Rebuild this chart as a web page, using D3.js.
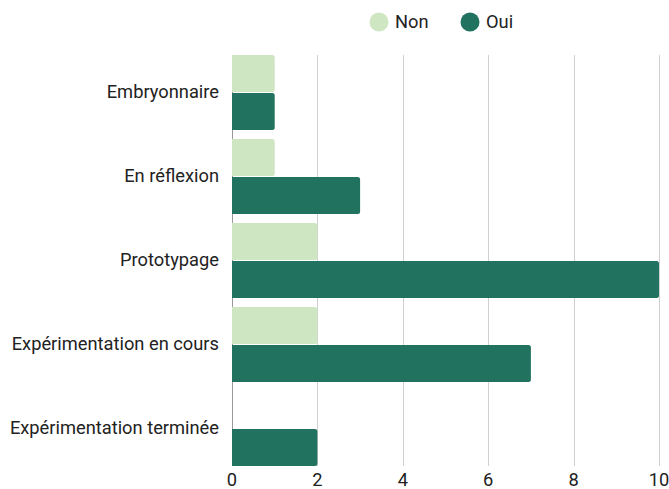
<!DOCTYPE html>
<html>
<head>
<meta charset="utf-8">
<script src="https://cdn.jsdelivr.net/npm/d3@7"></script>
<style>
  html, body { margin: 0; padding: 0; background: #fff; }
  svg { display: block; font-family: Roboto, "Noto Sans", sans-serif; }
</style>
</head>
<body>
<svg id="chart" width="669" height="489"></svg>
<script>
// Stages of the project and answer counts per series
const categories = ["Embryonnaire", "En réflexion", "Prototypage", "Expérimentation en cours", "Expérimentation terminée"];
const seriesNames = ["Non", "Oui"];
const nonValues = [1, 1, 2, 2, 0];
const ouiValues = [1, 3, 10, 7, 2];
const xTicks = [0, 2, 4, 6, 8, 10];
const seriesColors = ["#cfe6c2", "#21725e"];

const svg = d3.select("#chart");
const plot = { left: 232, right: 659, top: 55, bottom: 466 };
const fontSize = 18.3;

const x = d3.scaleLinear().domain([0, 10]).range([plot.left, plot.right]);
const y0 = d3.scaleBand().domain(categories).range([plot.top, plot.bottom]).paddingInner(0.107).paddingOuter(0);
const y1 = d3.scaleBand().domain(seriesNames).range([0, y0.bandwidth()]).paddingInner(0.027);
const color = d3.scaleOrdinal().domain(seriesNames).range(seriesColors);

const rows = categories.map((c, i) => ({ cat: c, values: [
  { key: "Non", value: nonValues[i] },
  { key: "Oui", value: ouiValues[i] }
]}));

// Vertical grid lines
svg.append("g").selectAll("line")
  .data(xTicks.filter(t => t !== 0))
  .join("line")
  .attr("x1", d => Math.round(x(d)) + 0.5).attr("x2", d => Math.round(x(d)) + 0.5)
  .attr("y1", plot.top).attr("y2", plot.bottom)
  .attr("stroke", "#d0d0d0").attr("stroke-width", 1);

// Baseline at zero
svg.append("line")
  .attr("x1", x(0) + 0.5).attr("x2", x(0) + 0.5)
  .attr("y1", plot.top).attr("y2", plot.bottom)
  .attr("stroke", "#999").attr("stroke-width", 1);

// Bar shape: square on the baseline, softly rounded on the value end
function barPath(x0, x1, yt, h, r) {
  const w = x1 - x0;
  r = Math.min(r, w / 2, h / 2);
  return `M${x0},${yt}H${x1 - r}Q${x1},${yt} ${x1},${yt + r}V${yt + h - r}Q${x1},${yt + h} ${x1 - r},${yt + h}H${x0}Z`;
}

const groups = svg.append("g").selectAll("g")
  .data(rows)
  .join("g")
  .attr("transform", d => `translate(0,${y0(d.cat)})`);

groups.selectAll("path")
  .data(d => d.values.filter(v => v.value > 0))
  .join("path")
  .attr("d", v => barPath(x(0), x(v.value), y1(v.key), y1.bandwidth(), 2.5))
  .attr("fill", v => color(v.key));

// Category labels
svg.append("g").selectAll("text")
  .data(categories)
  .join("text")
  .attr("x", 219)
  .attr("y", d => y0(d) + y0.bandwidth() / 2 - 1)
  .attr("dy", "0.35em")
  .attr("text-anchor", "end")
  .attr("font-size", fontSize)
  .attr("fill", "#222")
  .text(d => d);

// Value axis labels
svg.append("g").selectAll("text")
  .data(xTicks)
  .join("text")
  .attr("x", d => x(d))
  .attr("y", 480)
  .attr("dy", "0.35em")
  .attr("text-anchor", "middle")
  .attr("font-size", fontSize)
  .attr("fill", "#222")
  .text(d => d);

// Legend
const legendX = [379, 470];
const legend = svg.append("g").selectAll("g")
  .data(seriesNames)
  .join("g")
  .attr("transform", (d, i) => `translate(${legendX[i]},22)`);
legend.append("circle").attr("r", 9.5).attr("fill", d => color(d));
legend.append("text")
  .attr("x", 16).attr("dy", "0.35em")
  .attr("font-size", fontSize).attr("fill", "#222")
  .text(d => d);
</script>
</body>
</html>
